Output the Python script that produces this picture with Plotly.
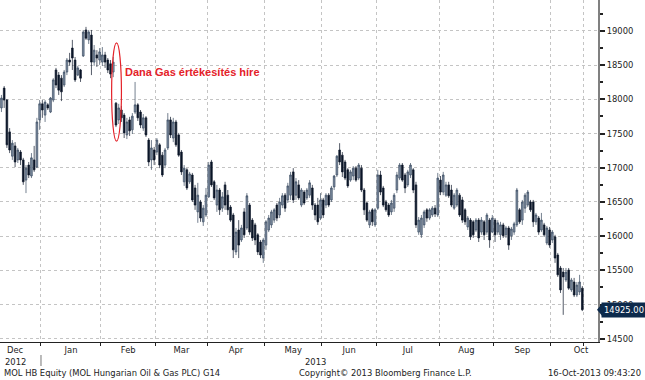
import plotly.graph_objects as go

# ---- data ----
months = ["Dec", "Jan", "Feb", "Mar", "Apr", "May", "Jun", "Jul", "Aug", "Sep", "Oct"]
month_days = [15, 22, 20, 19, 21, 21, 20, 23, 20, 21, 12]      # trading days shown
full_month_days = [19, 22, 20, 19, 21, 21, 20, 23, 20, 21, 22]  # full-month span used for label centring
years = ["2012", "2013"]

open_ = [17875, 18165, 17990, 17525, 17170, 17320, 17115, 17230, 17115, 16820, 17040, 16880, 17115, 17010, 17700,
         17935, 17770, 17920, 17815, 17990, 18430, 18355, 18310, 18210, 18400, 18575, 18750, 18575, 18355, 18430,
         18635, 19015, 18870, 18940, 18545, 18650, 18575,
         18545, 18650, 18575, 18520, 18400, 17945, 17700, 17845, 17770, 17480, 17700, 17555, 17815, 17920, 17815,
         17580, 17730, 17405, 17115, 17260,
         17230, 17335, 17185, 17040, 17290, 17700, 17435, 17670, 17480, 17230, 16795, 16970, 16795, 16895, 16705,
         16355, 16500, 16210, 16310,
         16575, 17085, 16795, 16455, 16675, 16410, 16750, 16600, 16425, 16310, 15770, 16090, 15945, 16355, 16120,
         16455, 16235, 16165, 16020, 15915, 15680,
         15870, 16090, 16165, 16235, 16455, 16310, 16455, 16600, 16530, 16600, 16940, 16600, 16750, 16455, 16645,
         16560, 16600, 16705, 16455, 16455, 16265,
         16530, 16455, 16600, 16530, 16720, 16895, 17260, 17185, 17085, 16970, 16820, 16880, 16995, 16850, 16995,
         16675, 16485, 16165, 16385, 16165,
         16410, 16895, 16705, 16500, 16455, 16355, 16410, 16675, 16850, 17040, 16895, 16750, 16895, 16970, 16750,
         16060, 16020, 16165, 16385, 16265, 16310, 16410, 16310,
         16820, 16645, 16600, 16750, 16675, 16410, 16455, 16600, 16530, 16385, 16135, 16235, 16210, 16090, 16235,
         16060, 16210, 16060, 16235, 16060,
         16235, 16060, 16020, 16165, 16020, 16120, 16005, 16060, 16165, 16385, 16235, 16410, 16455, 16500, 16500,
         16210, 16265, 16090, 16165, 15900, 16090,
         15945, 15990, 15725, 15535, 15475, 15360, 15505, 15215, 15330, 15140, 15185, 15240]

high = [18065, 18195, 18005, 17580, 17405, 17375, 17290, 17260, 17145, 17040, 17085, 17215, 17320, 17730, 17990,
        17990, 17990, 17945, 18035, 18310, 18460, 18400, 18355, 18430, 18605, 18680, 18870, 18620, 18490, 18445,
        19015, 19060, 19015, 19015, 18795, 18720, 18750,
        18765, 18695, 18605, 18575, 18620, 17960, 17935, 17905, 17800, 17730, 17745, 17800, 18255, 17945, 17845,
        17785, 17755, 17435, 17405, 17305,
        17435, 17360, 17230, 17290, 17800, 17745, 17730, 17700, 17510, 17260, 17040, 16995, 16940, 16925, 16750,
        16780, 16530, 16455, 16705,
        17085, 17115, 16820, 16750, 16705, 16645, 16795, 16675, 16455, 16340, 16120, 16235, 16165, 16410, 16630,
        16485, 16265, 16195, 16045, 15945, 15975,
        16235, 16310, 16385, 16410, 16485, 16560, 16630, 16630, 16780, 16940, 16995, 16850, 16820, 16705, 16675,
        16705, 16820, 16750, 16485, 16560, 16630,
        16560, 16630, 16630, 16735, 16895, 17185, 17360, 17230, 17115, 16995, 16970, 17025, 17025, 17070, 17040,
        16705, 16500, 16385, 16410, 16410,
        16970, 16955, 16735, 16530, 16485, 16530, 16630, 16940, 17070, 17070, 16925, 16970, 17070, 16995, 16795,
        16280, 16310, 16385, 16410, 16410, 16440, 16455, 16925,
        16880, 16940, 16795, 16795, 16750, 16630, 16705, 16630, 16575, 16410, 16295, 16265, 16235, 16265, 16265,
        16280, 16235, 16340, 16265, 16310,
        16265, 16235, 16210, 16195, 16150, 16150, 16135, 16210, 16705, 16410, 16530, 16630, 16675, 16530, 16530,
        16340, 16295, 16340, 16195, 16150, 16135,
        16090, 16020, 15755, 15565, 15535, 15535, 15535, 15390, 15390, 15330, 15435, 15270]

low = [17815, 17875, 17290, 17215, 17115, 17010, 17070, 17040, 16750, 16630, 16850, 16850, 16940, 16995, 17555,
       17730, 17670, 17845, 17800, 17960, 18165, 18065, 17975, 18180, 18355, 18490, 18430, 18255, 18340, 18255,
       18620, 18870, 18810, 18355, 18490, 18475, 18505,
       18490, 18460, 18385, 18310, 18325, 17595, 17640, 17670, 17435, 17420, 17465, 17495, 17785, 17685, 17580,
       17540, 17450, 17025, 16970, 17040,
       17185, 16995, 16865, 16995, 17260, 17435, 17375, 17305, 17160, 16895, 16735, 16675, 16765, 16500, 16385,
       16195, 16210, 16150, 16280,
       16560, 16720, 16530, 16355, 16310, 16355, 16385, 16310, 16210, 15680, 15725, 15680, 15915, 15975, 16090,
       16020, 15930, 15870, 15725, 15680, 15610,
       15800, 16060, 16120, 16195, 16220, 16265, 16410, 16355, 16485, 16530, 16485, 16530, 16530, 16425, 16455,
       16530, 16560, 16385, 16235, 16165, 16235,
       16265, 16410, 16425, 16500, 16675, 16865, 17040, 16865, 16820, 16705, 16795, 16820, 16795, 16820, 16645,
       16310, 16210, 16120, 16150, 16135,
       16385, 16600, 16425, 16355, 16280, 16310, 16355, 16630, 16820, 16795, 16630, 16720, 16850, 16630, 16120,
       16020, 15975, 16120, 16210, 16235, 16280, 16280, 16280,
       16600, 16600, 16575, 16560, 16425, 16385, 16425, 16280, 16195, 16165, 16090, 15945, 15975, 16060, 15915,
       16020, 15945, 16020, 15830, 16045,
       15915, 16020, 15945, 15975, 15975, 15800, 15945, 16020, 16135, 16180, 16165, 16340, 16425, 16355, 16135,
       16165, 16020, 16060, 15990, 15870, 15830,
       15900, 15610, 15405, 15170, 14850, 15330, 15215, 15185, 15110, 15110, 15140, 14905]

close = [18020, 17990, 17335, 17260, 17360, 17085, 17260, 17115, 16795, 16995, 16895, 17145, 16970, 17670, 17935,
         17845, 17960, 17875, 18020, 18285, 18210, 18135, 18110, 18400, 18575, 18545, 18605, 18285, 18460, 18310,
         18985, 18895, 18985, 18545, 18720, 18605, 18695,
         18650, 18545, 18430, 18370, 18545, 17625, 17875, 17730, 17510, 17670, 17540, 17755, 17920, 17730, 17625,
         17730, 17480, 17085, 17290, 17115,
         17405, 17040, 16895, 17260, 17700, 17480, 17670, 17335, 17185, 16940, 16995, 16705, 16910, 16530, 16455,
         16600, 16265, 16410, 16600,
         17040, 16750, 16560, 16675, 16385, 16575, 16455, 16385, 16235, 15800, 16060, 15870, 16120, 16020, 16590,
         16060, 15975, 15945, 15770, 15725, 15945,
         16210, 16265, 16355, 16385, 16265, 16500, 16590, 16410, 16735, 16895, 16530, 16795, 16560, 16675, 16485,
         16675, 16780, 16455, 16310, 16210, 16530,
         16310, 16600, 16455, 16705, 16880, 17170, 17085, 16940, 16850, 16735, 16940, 16995, 16820, 17040, 16675,
         16385, 16235, 16355, 16210, 16385,
         16895, 16645, 16455, 16385, 16310, 16485, 16600, 16895, 17040, 16820, 16705, 16940, 17040, 16675, 16165,
         16235, 16265, 16355, 16265, 16385, 16410, 16325, 16850,
         16645, 16895, 16750, 16590, 16455, 16600, 16675, 16310, 16235, 16210, 16265, 15990, 16020, 16235, 15975,
         16235, 16020, 16310, 15945, 16265,
         16020, 16195, 16165, 16005, 16120, 15870, 16105, 16180, 16675, 16210, 16500, 16600, 16645, 16385, 16210,
         16310, 16060, 16235, 16020, 16120, 15870,
         16060, 15680, 15435, 15215, 15405, 15475, 15240, 15360, 15140, 15285, 15330, 14925]

y_ticks = [14500, 15000, 15500, 16000, 16500, 17000, 17500, 18000, 18500, 19000]
footer_left = "MOL HB Equity (MOL Hungarian Oil & Gas PLC) G14"
footer_mid = "Copyright\u00a9 2013 Bloomberg Finance L.P."
footer_right = "16-Oct-2013 09:43:20"
note_text = "Dana Gas értékesítés híre"

# ---- derived axis positions ----
day = list(range(len(close)))
bounds = []
acc = 0
for n in month_days:
    acc += n
    bounds.append(acc - 0.5)
starts = [-0.5] + bounds[:-1]
label_pos = []
for k, m in enumerate(months):
    if k == 0:
        label_pos.append(bounds[0] - full_month_days[0] / 2)
    elif k == len(months) - 1:
        label_pos.append(starts[k] + full_month_days[k] / 2)
    else:
        label_pos.append((starts[k] + bounds[k]) / 2)

FONT = "DejaVu Sans"
FS = 8.4
TXT = "#222222"
NAVY = "#0c2a4c"

fig = go.Figure()
fig.add_trace(go.Candlestick(
    x=day, open=open_, high=high, low=low, close=close,
    increasing=dict(line=dict(color="#3a4b60", width=0.7), fillcolor="#7f8ea3"),
    decreasing=dict(line=dict(color="#0b1628", width=0.7), fillcolor="#0b1628"),
    whiskerwidth=0, hoverinfo="skip",
))

XR = [-0.53, 218.75]
YR = [14453, 19453]

fig.update_layout(
    width=645, height=380,
    margin=dict(l=0, r=47, t=0, b=38),
    paper_bgcolor="white", plot_bgcolor="white",
    showlegend=False, boxgap=0.12,
    font=dict(family=FONT, size=FS, color=TXT),
    xaxis=dict(
        range=XR, rangeslider=dict(visible=False), fixedrange=True,
        tickmode="array", tickvals=label_pos, ticktext=months,
        ticks="", showgrid=False, zeroline=False,
        showline=True, linecolor="#222222", linewidth=1,
        tickfont=dict(family=FONT, size=FS, color=TXT),
        minor=dict(tickmode="array", tickvals=bounds, ticks="outside", ticklen=3,
                   tickcolor="#222222", showgrid=True, gridcolor="#c4c4c4",
                   griddash="dot", gridwidth=1),
    ),
    yaxis=dict(
        range=YR, side="right", fixedrange=True,
        tickmode="array", tickvals=y_ticks, ticktext=[str(v) for v in y_ticks],
        ticks="outside", ticklen=5, tickwidth=2, tickcolor="#222222",
        showgrid=True, gridcolor="#c4c4c4", griddash="dot", gridwidth=1,
        showline=True, linecolor="#808080", linewidth=2, zeroline=False,
        tickfont=dict(family=FONT, size=FS, color=TXT),
        minor=dict(tickmode="linear", tick0=14250, dtick=500, ticks="outside",
                   ticklen=3, tickcolor="#222222", showgrid=False),
    ),
)

PW = 598.0
PH = 342.0
def px_x(p):
    return p / PW
def px_y(p):
    return 1 - p / PH

last = close[-1]
price_per_px = (YR[1] - YR[0]) / PH

annotations = [
    dict(text=years[0], x=label_pos[0], xref="x", y=px_y(362), yref="paper", showarrow=False,
         xanchor="center", yanchor="middle", font=dict(family=FONT, size=FS, color=TXT)),
    dict(text=years[1], x=115, xref="x", y=px_y(362), yref="paper", showarrow=False,
         xanchor="center", yanchor="middle", font=dict(family=FONT, size=FS, color=TXT)),
    dict(text=footer_left, x=px_x(2), xref="paper", y=px_y(372.5), yref="paper", showarrow=False,
         xanchor="left", yanchor="middle", font=dict(family=FONT, size=FS, color=TXT)),
    dict(text=footer_mid, x=px_x(297), xref="paper", y=px_y(372.5), yref="paper", showarrow=False,
         xanchor="left", yanchor="middle", font=dict(family=FONT, size=FS, color=TXT)),
    dict(text=footer_right, x=px_x(643), xref="paper", y=px_y(372.5), yref="paper", showarrow=False,
         xanchor="right", yanchor="middle", font=dict(family=FONT, size=FS, color=TXT)),
    dict(text="<b>" + note_text + "</b>", x=44.6, xref="x", y=18400, yref="y", showarrow=False,
         xanchor="left", yanchor="middle",
         font=dict(family="Liberation Sans", size=11, color="#e42229")),
    dict(text=f"{last:.2f}", x=px_x(601), xref="paper", y=last, yref="y", showarrow=False,
         xanchor="left", yanchor="middle", bgcolor=NAVY, borderpad=2,
         font=dict(family=FONT, size=FS, color="white")),
]
fig.update_layout(annotations=annotations)

shapes = [
    dict(type="circle", xref="x", yref="y", x0=40.4, x1=44.0, y0=17390, y1=18825,
         line=dict(color="#e42229", width=1.2)),
    dict(type="path", xref="paper", yref="y",
         path=f"M {px_x(597)},{last} L {px_x(602)},{last + 6 * price_per_px} "
              f"L {px_x(602)},{last - 6 * price_per_px} Z",
         fillcolor=NAVY, line=dict(width=0)),
    dict(type="line", xref="x", yref="paper", x0=bounds[0], x1=bounds[0],
         y0=px_y(355), y1=px_y(366), line=dict(color="#777777", width=1)),
]
fig.update_layout(shapes=shapes)

fig.write_html("out.html")
